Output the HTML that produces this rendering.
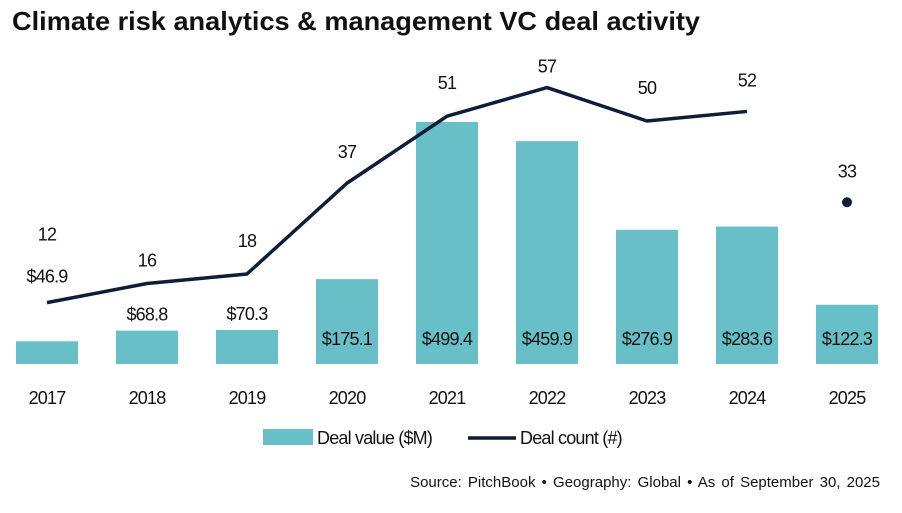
<!DOCTYPE html>
<html><head><meta charset="utf-8">
<style>
body{margin:0;background:#fff;width:902px;height:508px;overflow:hidden;font-family:"Liberation Sans",sans-serif}
svg text{font-family:"Liberation Sans",sans-serif}
.n{letter-spacing:-0.8px}
</style></head><body>
<svg id="c" width="902" height="508">
<text x="12" y="30" font-size="26" font-weight="bold" fill="#111" textLength="688" lengthAdjust="spacingAndGlyphs">Climate risk analytics &amp; management VC deal activity</text>
<text x="880" y="487" font-size="15" text-anchor="end" fill="#111" word-spacing="2">Source: PitchBook  •  Geography: Global  •  As of September 30, 2025</text>
<g>
<rect x="263" y="429" width="50" height="16" fill="#68bfc8"/>
<text x="317" y="444" font-size="18" fill="#111" class="n">Deal value ($M)</text>
<line x1="468" y1="438" x2="516" y2="438" stroke="#0f1d38" stroke-width="3.5"/>
<text x="520" y="444" font-size="18" fill="#111" class="n">Deal count (#)</text>
</g>
<g id="plot"></g>
</svg>
<script>
const years=["2017","2018","2019","2020","2021","2022","2023","2024","2025"];
const dealValue=[46.9,68.8,70.3,175.1,499.4,459.9,276.9,283.6,122.3];
const valueLabels=["$46.9","$68.8","$70.3","$175.1","$499.4","$459.9","$276.9","$283.6","$122.3"];
const dealCount=[12,16,18,37,51,57,50,52,33];
const NS="http://www.w3.org/2000/svg";
const g=document.getElementById('plot');
const base=364, x0=47, step=100, bw=62;
const labelGap=[62,17,27,25,27,15,27,25,25];
const xs=i=>x0+i*step;
const yv=v=>base-v*0.4846;
const yc=c=>360-c*4.78;
function mk(t,a){const e=document.createElementNS(NS,t);for(const k in a)e.setAttribute(k,a[k]);g.appendChild(e);return e;}
years.forEach((y,i)=>{
  const b=mk('rect',{x:xs(i)-bw/2,y:yv(dealValue[i]),width:bw,height:base-yv(dealValue[i]),fill:'#68bfc8'});
  
  
  const inside=base-yv(dealValue[i])>45;
  const ly=inside?345:(i===0?yv(dealValue[i])-59:yv(dealValue[i])-10);
  const t=mk('text',{x:xs(i),y:ly,'text-anchor':'middle','font-size':18,fill:'#111',class:'n'});
  t.textContent=valueLabels[i];
  
  
  const xl=mk('text',{x:xs(i),y:404,'text-anchor':'middle','font-size':18,fill:'#111',class:'n'});
  xl.textContent=y;
  
  
  const cy=yc(dealCount[i]);
  const cl=mk('text',{x:xs(i),y:cy-labelGap[i],'text-anchor':'middle','font-size':18,fill:'#111',class:'n'});
  cl.textContent=dealCount[i];
  
  
});
const pts=dealCount.slice(0,8).map((c,i)=>xs(i)+','+yc(c)).join(' ');
const pl=mk('polyline',{points:pts,fill:'none',stroke:'#0f1d38','stroke-width':3.5,'stroke-linejoin':'round'});


const dt=mk('circle',{cx:xs(8),cy:yc(dealCount[8]),r:5,fill:'#0f1d38'});


</script>
</body></html>
